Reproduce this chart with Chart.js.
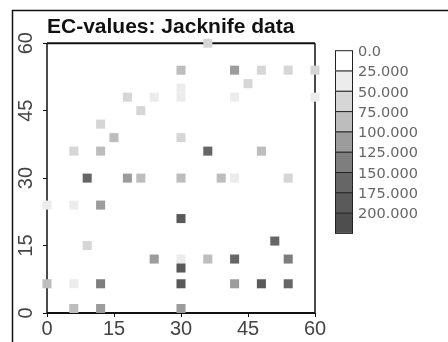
<!DOCTYPE html>
<html><head><meta charset="utf-8">
<script src="https://cdn.jsdelivr.net/npm/chart.js@4"></script>
<style>html,body{margin:0;padding:0;background:#fff}#wrap{width:448px;height:342px;position:relative}</style>
</head><body><div id="wrap"><canvas id="c" width="448" height="342"></canvas></div>
<script>
const titleText = 'EC-values: Jacknife data';
const tickValues = [0, 15, 30, 45, 60];
const legendLabels = ['0.0','25.000','50.000','75.000','100.000','125.000','150.000','175.000','200.000'];
const legendValues = [0, 25, 50, 75, 100, 125, 150, 175, 200];

const pointX  = [6, 12, 15, 12, 21, 18, 24, 30, 30, 30, 30, 36, 36, 42, 48, 54, 60, 60, 45, 42, 48,
                 9, 18, 21, 30, 39, 42, 54, 0, 6, 12, 30, 9, 24, 30, 36, 42, 51, 54, 30,
                 0, 6, 12, 30, 42, 48, 54, 6, 12, 30];
const pointY  = [36, 36, 39, 42, 45, 48, 48, 54, 50, 48, 39, 36, 60, 54, 54, 54, 54, 48, 51, 48, 36,
                 30, 30, 30, 30, 30, 30, 30, 24, 24, 24, 21, 15, 12, 12, 12, 12, 16, 12, 10,
                 6.5, 6.5, 6.5, 6.5, 6.5, 6.5, 6.5, 1, 1, 1];
const pointEC = [50, 75, 75, 50, 50, 50, 25, 75, 25, 25, 50, 150, 50, 100, 50, 50, 50, 25, 50, 25, 75,
                 150, 100, 75, 75, 75, 25, 50, 25, 25, 100, 175, 50, 100, 25, 75, 150, 150, 125, 175,
                 75, 25, 125, 175, 100, 175, 150, 75, 100, 100];

const shades = ['#ffffff','#ececec','#d6d6d6','#bdbdbd','#9c9c9c','#7e7e7e','#666666','#5a5a5a','#4e4e4e'];
function shadeFor(v){
  let idx = 0, best = Infinity;
  legendValues.forEach((lv,i)=>{ const d = Math.abs(lv - v); if (d < best){best=d; idx=i;} });
  return shades[idx];
}

const points = pointX.map((x,i)=>({x:x, y:pointY[i], v:pointEC[i]}));

const deco = {
  id: 'deco',
  afterLayout(chart){
    chart.titleBlock.left = chart.chartArea.left;
  },
  beforeDraw(chart){
    const ctx = chart.ctx;
    ctx.save();
    ctx.fillStyle = '#fff';
    ctx.fillRect(0,0,chart.width,chart.height);
    ctx.strokeStyle = '#111';
    ctx.lineWidth = 1.5;
    ctx.beginPath();
    ctx.moveTo(12.5, chart.height);
    ctx.lineTo(12.5, 10.5);
    ctx.lineTo(chart.width, 10.5);
    ctx.stroke();
    ctx.restore();
  },
  beforeDatasetsDraw(chart){
    const {ctx, chartArea:a} = chart;
    ctx.save();
    ctx.strokeStyle = '#111';
    ctx.lineWidth = 1.5;
    ctx.beginPath();
    ctx.moveTo(a.left, a.top); ctx.lineTo(a.left, a.bottom);
    ctx.moveTo(a.right, a.top); ctx.lineTo(a.right, a.bottom);
    ctx.stroke();
    ctx.lineWidth = 2;
    ctx.beginPath();
    ctx.moveTo(a.left, a.top); ctx.lineTo(a.right, a.top);
    ctx.moveTo(a.left, a.bottom); ctx.lineTo(a.right, a.bottom);
    ctx.stroke();
    ctx.restore();
  },
  afterDraw(chart){
    const {ctx, chartArea:a} = chart;
    const x0 = a.right + 20, y0 = a.top + 7, w = 17, h = 20.3;
    ctx.save();
    legendLabels.forEach((lab,i)=>{
      ctx.fillStyle = shades[i];
      ctx.fillRect(x0, y0 + i*h, w, h);
      ctx.strokeStyle = '#222';
      ctx.lineWidth = 1;
      ctx.strokeRect(x0 + 0.5, y0 + i*h + 0.5, w, h);
      ctx.fillStyle = '#666';
      ctx.font = '14.5px "DejaVu Sans", "Liberation Sans", sans-serif';
      ctx.textBaseline = 'middle';
      ctx.textAlign = 'left';
      ctx.fillText(lab, x0 + w + 6, y0 + i*h + 2);
    });
    ctx.restore();
  }
};

const tickFont = {family: '"Liberation Sans", Arial, sans-serif', size: 20};

new Chart(document.getElementById('c'), {
  type: 'scatter',
  data: {
    datasets: [{
      label: 'EC',
      data: points,
      pointStyle: 'rect',
      pointRadius: 6.4,
      pointHoverRadius: 6.4,
      borderWidth: 0,
      backgroundColor: (ctx) => ctx.raw ? shadeFor(ctx.raw.v) : '#888',
      clip: false
    }]
  },
  options: {
    responsive: false,
    animation: false,
    layout: {padding: {left: 0, right: 133, top: 0, bottom: 0}},
    plugins: {
      legend: {display: false},
      tooltip: {enabled: false},
      title: {
        display: true,
        text: titleText,
        align: 'start',
        color: '#111',
        font: {family: '"Liberation Sans", Arial, sans-serif', size: 21, weight: 'bold'},
        padding: {top: 15, bottom: 3}
      }
    },
    scales: {
      x: {
        type: 'linear', min: 0, max: 60,
        afterBuildTicks: (s) => { s.ticks = tickValues.map(v=>({value:v})); },
        afterFit: (s) => { s.height = 29; },
        border: {display: false},
        grid: {display: true, drawOnChartArea: false, drawTicks: true, tickLength: 4, tickColor: '#111', color: '#111'},
        ticks: {color: '#444', font: tickFont, padding: 0, maxRotation: 0, autoSkip: false}
      },
      y: {
        type: 'linear', min: 0, max: 60,
        afterBuildTicks: (s) => { s.ticks = tickValues.map(v=>({value:v})); },
        afterFit: (s) => { s.width = 47; },
        border: {display: false},
        grid: {display: true, drawOnChartArea: false, drawTicks: true, tickLength: 4, tickColor: '#111', color: '#111'},
        ticks: {color: '#444', font: tickFont, padding: 5, minRotation: 90, maxRotation: 90, crossAlign: 'center', autoSkip: false}
      }
    }
  },
  plugins: [deco]
});
</script></body></html>
